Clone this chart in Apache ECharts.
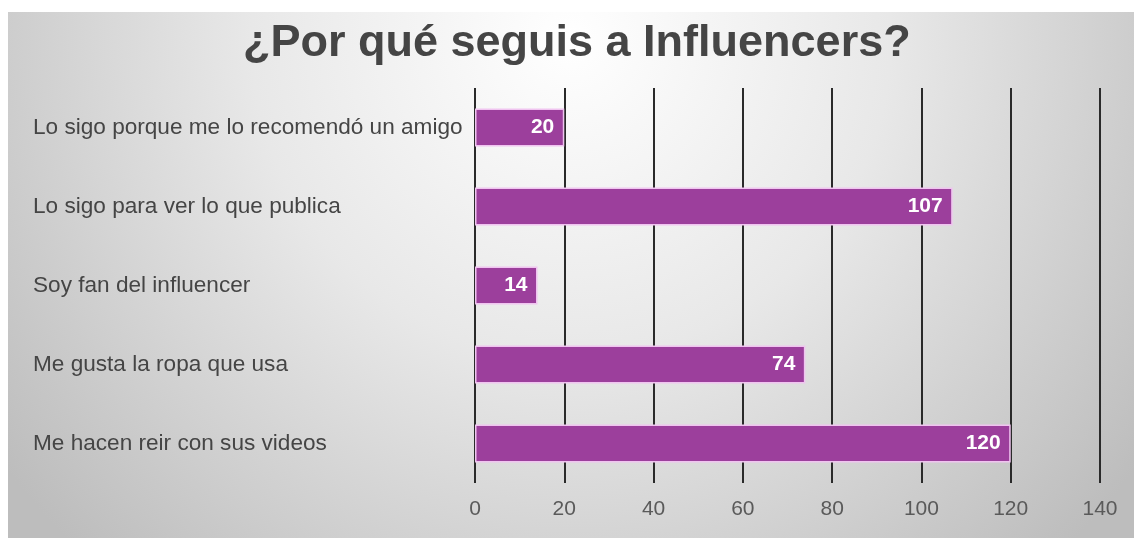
<!DOCTYPE html>
<html>
<head>
<meta charset="utf-8">
<style>
  html, body { margin: 0; padding: 0; background: #ffffff; }
  #chart { width: 1134px; height: 538px; }
</style>
<script src="https://cdn.jsdelivr.net/npm/echarts@6/dist/echarts.min.js"></script>
</head>
<body>
<div id="chart"></div>
<script>
// Survey answers, top to bottom
var categories = [
  'Lo sigo porque me lo recomendó un amigo',
  'Lo sigo para ver lo que publica',
  'Soy fan del influencer',
  'Me gusta la ropa que usa',
  'Me hacen reir con sus videos'
];
var counts = [20, 107, 14, 74, 120];
var axisMin = 0;
var axisMax = 140;
var axisStep = 20;

var chart = echarts.init(document.getElementById('chart'), null, { renderer: 'canvas' });

chart.setOption({
  animation: false,
  graphic: [{
    type: 'rect',
    z: -100,
    silent: true,
    shape: { x: 8, y: 12, width: 1126, height: 526 },
    style: {
      fill: new echarts.graphic.RadialGradient(0.5, 0.05, 1.35, [
        { offset: 0, color: '#ffffff' },
        { offset: 0.45, color: '#e8e8e8' },
        { offset: 1, color: '#bdbdbd' }
      ])
    }
  }],
  title: {
    text: '¿Por qué seguis a Influencers?',
    left: 238,
    top: 16,
    textStyle: {
      fontFamily: 'Liberation Sans',
      fontWeight: 'bold',
      fontSize: 45,
      color: '#454545'
    }
  },
  grid: { left: 475, right: 34, top: 88, bottom: 55, containLabel: false },
  xAxis: {
    type: 'value',
    min: axisMin,
    max: axisMax,
    interval: axisStep,
    axisLine: { show: false },
    axisTick: { show: false },
    axisLabel: {
      margin: 16,
      fontFamily: 'Liberation Sans',
      fontSize: 21,
      color: '#5a5a5a'
    },
    splitLine: { lineStyle: { color: '#2a2a2a', width: 2 } }
  },
  yAxis: {
    type: 'category',
    inverse: true,
    data: categories,
    axisLine: { show: false },
    axisTick: { show: false },
    axisLabel: {
      align: 'left',
      margin: 442,
      fontFamily: 'Liberation Sans',
      fontSize: 22.6,
      color: '#454545'
    }
  },
  series: [{
    type: 'bar',
    data: counts,
    barWidth: '48%',
    itemStyle: {
      color: '#9c3f9c',
      borderColor: '#f0c4f0',
      borderWidth: 1.5
    },
    label: {
      show: true,
      position: 'insideRight',
      distance: 10,
      color: '#ffffff',
      fontFamily: 'Liberation Sans',
      fontWeight: 'bold',
      fontSize: 21
    }
  }]
});
</script>
</body>
</html>
